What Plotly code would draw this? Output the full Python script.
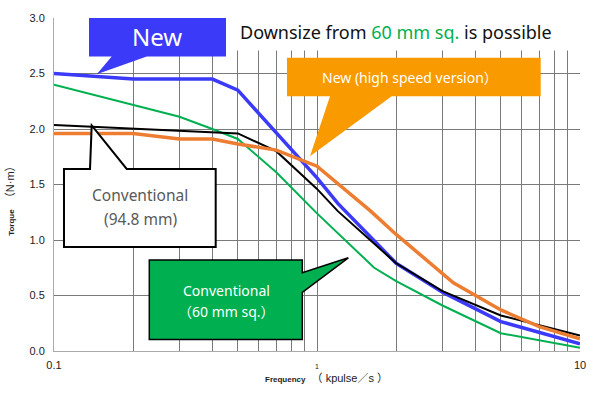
import plotly.graph_objects as go

# ---------------- data ----------------
FREQ_NEW = [0.1, 0.2, 0.4, 0.5, 1.0, 1.2, 2, 3, 5, 10]
TORQUE_NEW = [2.50, 2.45, 2.45, 2.35, 1.56, 1.33, 0.79, 0.53, 0.265, 0.065]

FREQ_HS = [0.1, 0.2, 0.3, 0.4, 0.5, 0.7, 1.0, 1.6, 2, 3.3, 5, 7, 10]
TORQUE_HS = [1.96, 1.96, 1.91, 1.91, 1.865, 1.81, 1.665, 1.26, 1.05, 0.615, 0.37, 0.22, 0.11]

FREQ_CONV94 = [0.1, 0.2, 0.3, 0.4, 0.5, 0.7, 1.0, 1.2, 2, 3, 5, 10]
TORQUE_CONV94 = [2.035, 2.005, 1.985, 1.975, 1.96, 1.80, 1.46, 1.26, 0.79, 0.54, 0.32, 0.14]

FREQ_CONV60 = [0.1, 0.2, 0.3, 0.4, 0.5, 0.7, 1.0, 1.65, 2, 3, 5, 10]
TORQUE_CONV60 = [2.40, 2.22, 2.11, 2.00, 1.91, 1.61, 1.24, 0.75, 0.63, 0.41, 0.16, 0.03]

X_GRID = [0.1, 0.2, 0.3, 0.4, 0.5, 0.6, 0.7, 0.8, 0.9, 1, 2, 3, 4, 5, 6, 7, 8, 9, 10]
X_LABELS = {0.1: "0.1", 1: "<span style='font-size:7px'>1</span>", 10: "10"}
Y_TICKS = [0.0, 0.5, 1.0, 1.5, 2.0, 2.5, 3.0]

BLUE = "#3A3AF8"
ORANGE = "#ED7D31"
GREEN = "#00B050"
BOX_ORANGE = "#F99A00"

# ---------------- layout geometry (pixels) ----------------
W, H = 600, 393
L, R, T, B = 54, 20, 14, 42
PW, PH = W - L - R, H - T - B


def px(x):
    return (x - L) / PW


def py(y):
    return (H - B - y) / PH


def path(points):
    return "M " + " L ".join(f"{px(a):.5f},{py(b):.5f}" for a, b in points) + " Z"


fig = go.Figure()
fig.add_trace(go.Scatter(x=FREQ_CONV60, y=TORQUE_CONV60, mode="lines",
                         line=dict(color=GREEN, width=2), hoverinfo="skip"))
fig.add_trace(go.Scatter(x=FREQ_NEW, y=TORQUE_NEW, mode="lines",
                         line=dict(color=BLUE, width=3.5), hoverinfo="skip"))
fig.add_trace(go.Scatter(x=FREQ_CONV94, y=TORQUE_CONV94, mode="lines",
                         line=dict(color="black", width=2), hoverinfo="skip"))
fig.add_trace(go.Scatter(x=FREQ_HS, y=TORQUE_HS, mode="lines",
                         line=dict(color=ORANGE, width=3.5), hoverinfo="skip"))

FONT = "Liberation Sans, Arial, Noto Sans CJK JP"
TXT = "Noto Sans, Noto Sans CJK JP"

fig.update_layout(
    width=W, height=H,
    margin=dict(l=L, r=R, t=T, b=B),
    paper_bgcolor="white", plot_bgcolor="white",
    showlegend=False,
    font=dict(family=FONT, size=11, color="#222"),
    xaxis=dict(type="log", range=[-1, 1], tickvals=X_GRID,
               ticktext=[X_LABELS.get(v, "") for v in X_GRID],
               showgrid=True, gridcolor="#7a7a7a", gridwidth=1,
               showline=True, linecolor="#aaaaaa", linewidth=1,
               ticks="", ticklabelstandoff=4, zeroline=False,
               tickfont=dict(size=11, color="#222")),
    yaxis=dict(range=[0, 3], tickvals=Y_TICKS,
               ticktext=[f"{v:.1f}" for v in Y_TICKS],
               showgrid=True, gridcolor="#7a7a7a", gridwidth=1,
               showline=True, linecolor="#aaaaaa", linewidth=1,
               ticks="", ticklabelstandoff=6, zeroline=False,
               tickfont=dict(size=11, color="#222")),
)

shapes = []
# white area behind the headline
shapes.append(dict(type="rect", xref="paper", yref="paper",
                   x0=px(227), x1=px(600), y0=py(47), y1=py(0),
                   fillcolor="white", line=dict(width=0), layer="above"))
# "New" callout
shapes.append(dict(type="path", xref="paper", yref="paper",
                   path=path([(89, 14), (226, 14), (226, 53), (146.7, 53), (96.7, 71), (111.7, 53), (89, 53)]),
                   fillcolor=BLUE, line=dict(width=0), layer="above"))
# "New (high speed version)" callout
shapes.append(dict(type="path", xref="paper", yref="paper",
                   path=path([(287, 54.3), (540.7, 54.3), (540.7, 93.3), (391.7, 93.3), (310, 154), (330, 93.3), (287, 93.3)]),
                   fillcolor=BOX_ORANGE, line=dict(width=0), layer="above"))
# "Conventional (94.8 mm)" callout
shapes.append(dict(type="path", xref="paper", yref="paper",
                   path=path([(64, 166.7), (90, 166.7), (91.7, 122.7), (126.7, 166.7), (215.7, 166.7), (215.7, 245.7), (64, 245.7)]),
                   fillcolor="white", line=dict(color="black", width=2), layer="above"))
# "Conventional (60 mm sq.)" callout
shapes.append(dict(type="path", xref="paper", yref="paper",
                   path=path([(149.3, 259), (302.3, 259), (302.3, 271.7), (348.3, 256.7), (302.3, 291.7), (302.3, 339.3), (149.3, 339.3)]),
                   fillcolor=GREEN, line=dict(color="black", width=1.5), layer="above"))
fig.update_layout(shapes=shapes)

ann = []


def text(x, y, s, size, color, family=TXT, angle=0):
    ann.append(dict(x=px(x), y=py(y), xref="paper", yref="paper", text=s,
                    showarrow=False, textangle=angle,
                    font=dict(size=size, color=color, family=family),
                    xanchor="center", yanchor="middle"))


text(396, 28, "Downsize from <span style='color:#00B050'>60 mm sq.</span> is possible", 18, "#111")
text(157, 33, "New", 24, "white")
text(410, 74, "New (high speed version）", 14, "white")
text(140, 193, "Conventional", 15.5, "#595959")
text(140, 217, "(94.8 mm)", 15.5, "#595959")
text(226, 290, "Conventional", 14, "white")
text(226, 311, "（60 mm sq.）", 14, "white")
text(326, 378, "<b><span style='font-size:8px'>Frequency</span></b>  （ kpulse／s ）", 11, "#222", family=FONT)
text(10, 197, "<b><span style='font-size:8px'>Torque</span></b>  （N·m）", 11, "#222", family=FONT, angle=-90)
fig.update_layout(annotations=ann)

fig.write_html("out.html", config={"displayModeBar": False},
               post_script="document.body.style.margin='0';")
